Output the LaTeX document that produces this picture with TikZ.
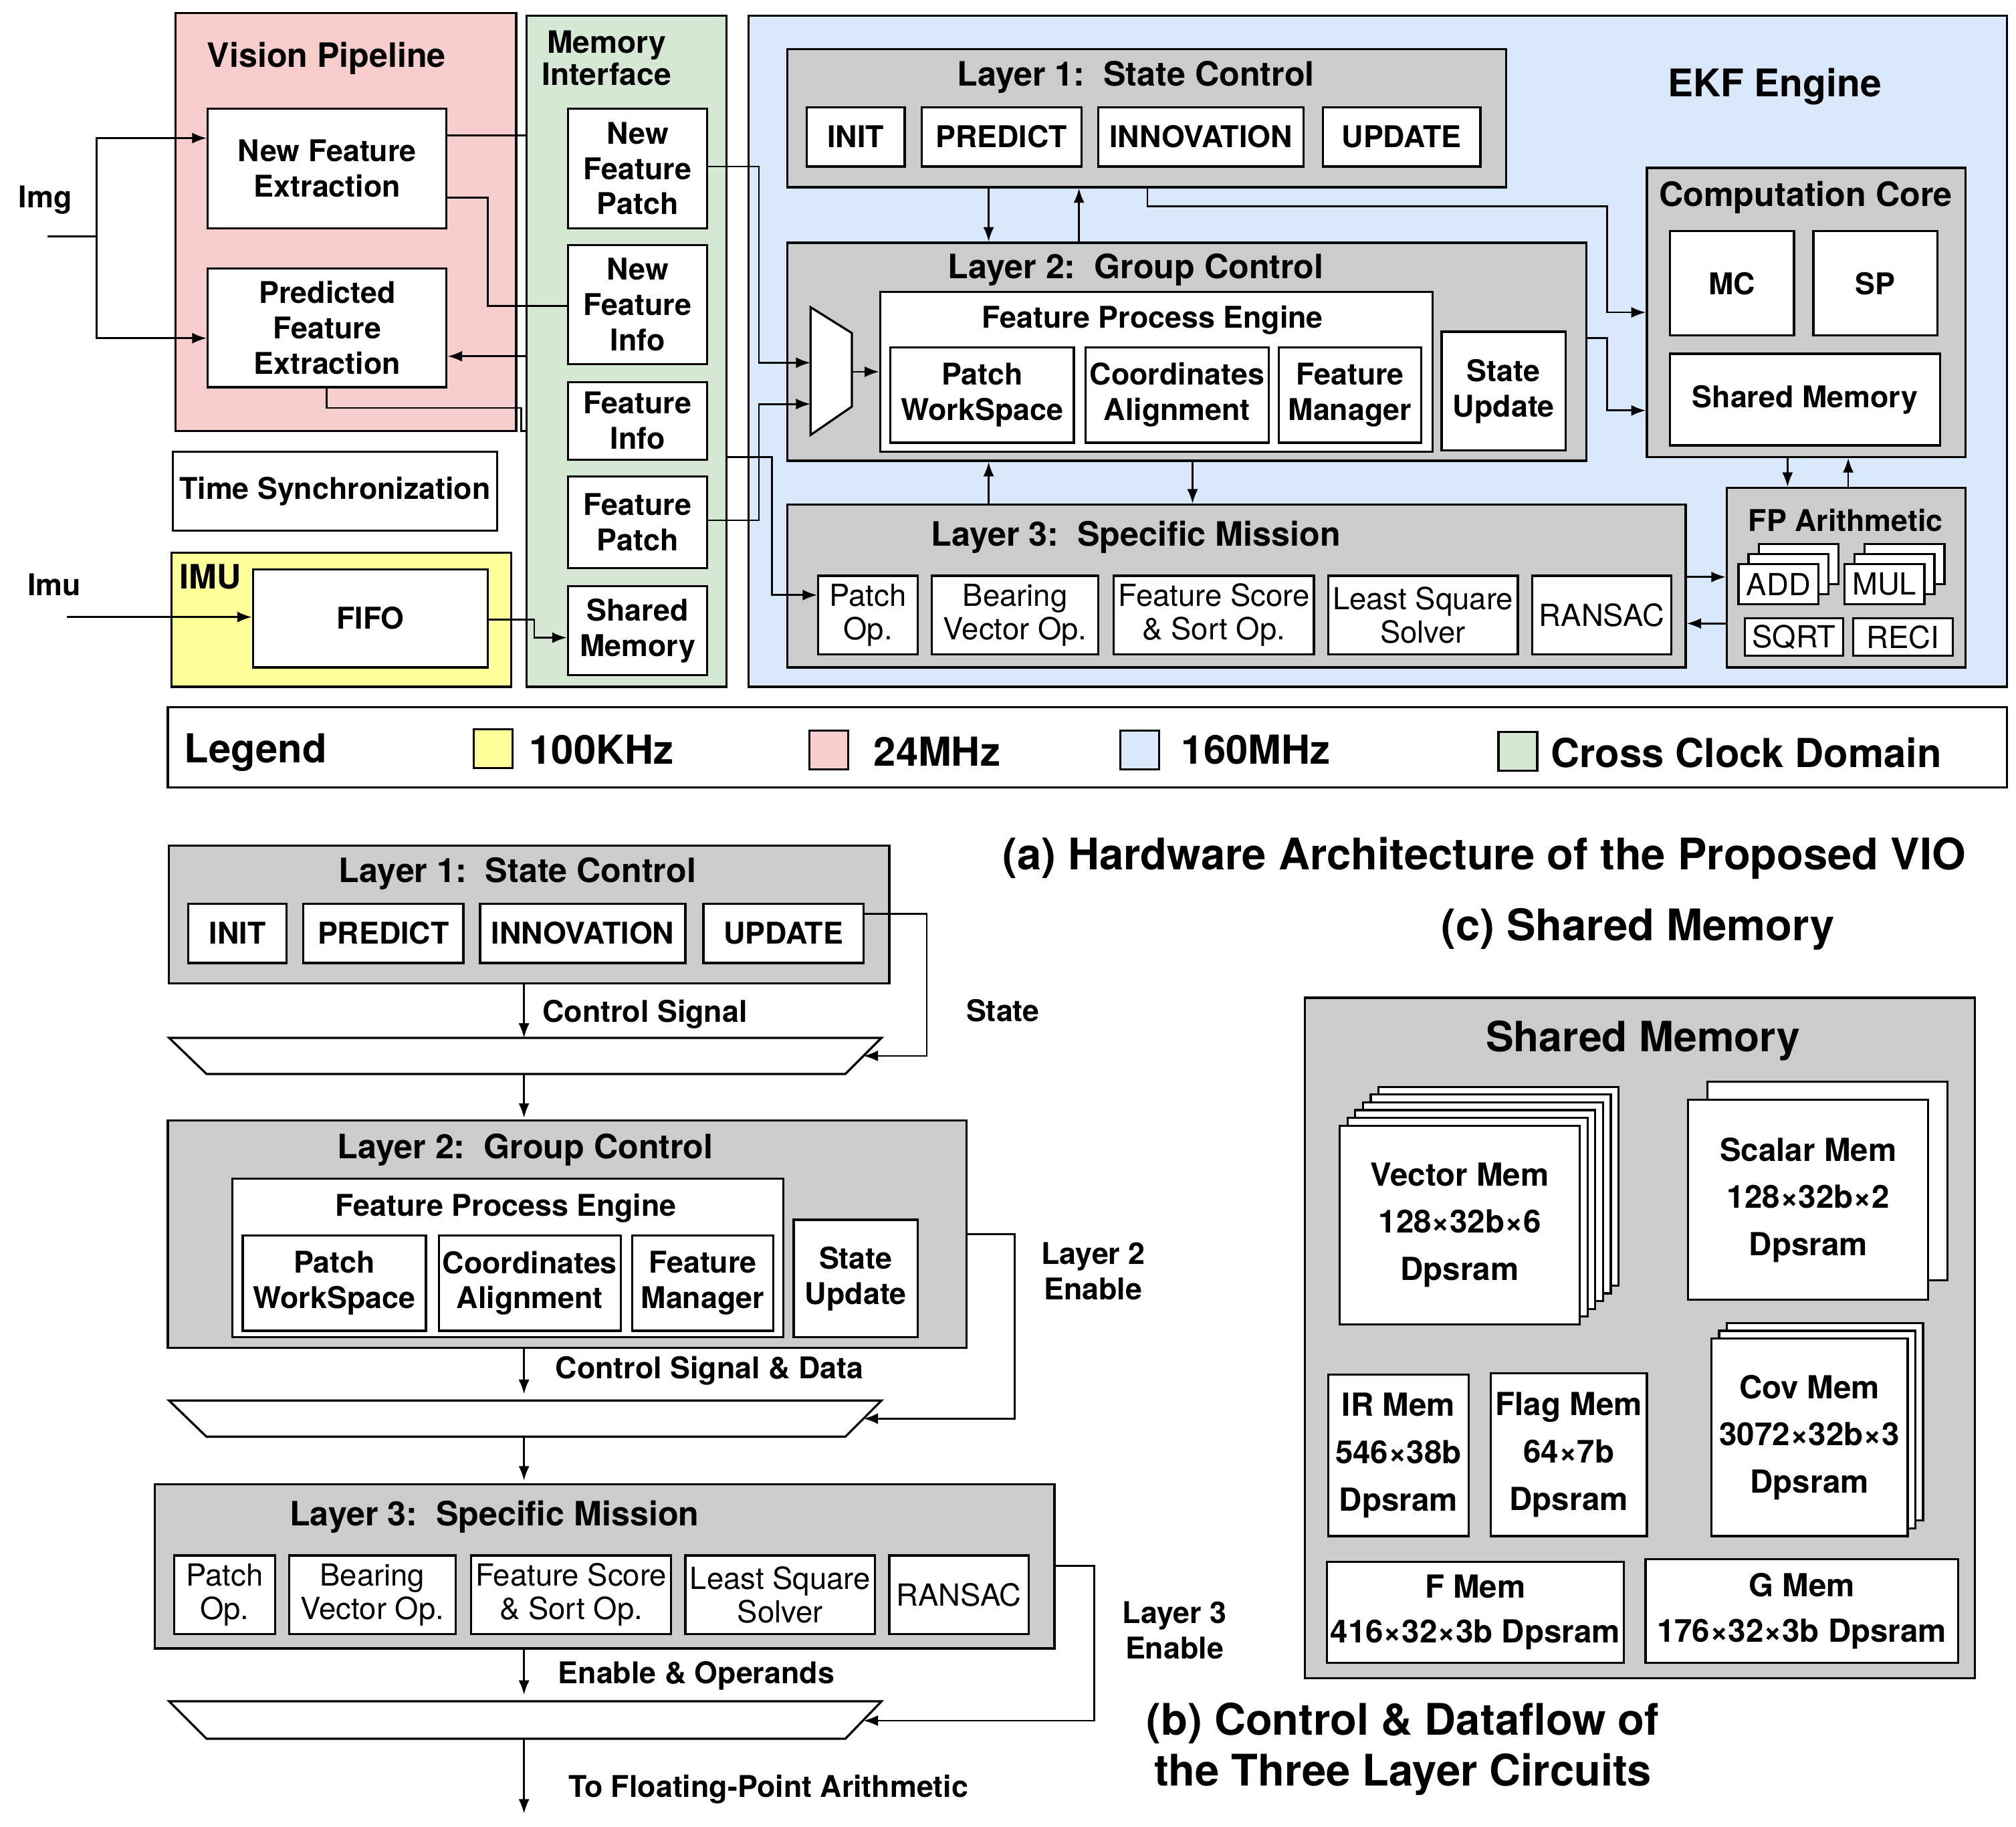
\documentclass[tikz,border=0pt]{standalone}
\usepackage{fontspec}
\setmainfont{TeX Gyre Heros}
\usetikzlibrary{arrows.meta}
\newcommand\bx[7]{\node[#1,minimum width={(#5-#3)*0.05cm},minimum height={(#6-#4)*0.05cm}] (#2) at ({(#3+#5)/2},{(#4+#6)/2}) {#7};}
\newcommand\stk[7]{%
\foreach \k in {#7,...,1}{\draw[box] ({#3+7.8*\k},{#4-7.8*\k}) rectangle ({#5+7.8*\k},{#6-7.8*\k});}}
\tikzset{
 ln/.style={line width=2pt},
 box/.style={draw,line width=2.4pt,fill=white,inner sep=0pt,align=center,font=\fontsize{33}{39}\selectfont\bfseries},
 nb/.style={box,font=\fontsize{33.5}{37}\selectfont},
 gray/.style={box,fill=graybg},
 ttl/.style={font=\fontsize{37}{42}\selectfont\bfseries,align=center},
 lab/.style={font=\fontsize{33}{39}\selectfont\bfseries,align=center},
 big/.style={font=\fontsize{48}{56}\selectfont\bfseries,align=center},
 ar/.style={ln,-{Latex[length=16pt,width=12pt]}},
}
\definecolor{graybg}{HTML}{CCCCCC}
\definecolor{pinkbg}{HTML}{F8CECC}
\definecolor{greenbg}{HTML}{D5E8D4}
\definecolor{bluebg}{HTML}{DAE8FC}
\definecolor{yellowbg}{HTML}{FFFF99}
\begin{document}
\begin{tikzpicture}[x=0.05cm,y=-0.05cm]
\useasboundingbox (0,0) rectangle (1562,1415);
% ===== (a) =====
\bx{box,fill=pinkbg}{vp}{136}{10}{400}{334}{}
\node[ttl] (vpt) at (253,45) {Vision Pipeline};
\bx{box,fill=greenbg}{mi}{408}{12}{563}{532}{}
\node[ttl,font=\fontsize{34}{40}\selectfont\bfseries] (mit) at (470,45) {Memory\\[-4pt]Interface};
\bx{box,fill=bluebg}{ekf}{580}{12}{1555}{532}{}
\node[big,font=\fontsize{42}{48}\selectfont\bfseries] (ekft) at (1375,67) {EKF Engine};
\bx{box,fill=yellowbg}{imu}{133}{428}{396}{532}{}
\node[ttl] (imut) at (163,447) {IMU};
\bx{box}{nfe}{161}{84}{346}{177}{New Feature\\Extraction}
\bx{box}{pfe}{161}{208}{346}{300}{Predicted\\Feature\\Extraction}
\bx{box}{ts}{134}{350}{385}{411}{Time Synchronization}
\bx{box}{fifo}{196}{441}{378}{517}{FIFO}
\bx{box}{nfp}{440}{84}{548}{177}{New\\Feature\\Patch}
\bx{box}{nfi}{440}{190}{548}{282}{New\\Feature\\Info}
\bx{box}{fi}{440}{296}{548}{356}{Feature\\Info}
\bx{box}{fp}{440}{369}{548}{440}{Feature\\Patch}
\bx{box}{sm}{440}{454}{548}{523}{Shared\\Memory}
% Layer1
\bx{gray}{l1}{610}{38}{1167}{145}{}
\node[ttl] (l1t) at (880,60) {Layer 1:\ \ State Control};
\bx{box}{a1}{625}{83}{701}{129}{INIT}
\bx{box}{a2}{714}{83}{838}{129}{PREDICT}
\bx{box}{a3}{851}{83}{1010}{129}{INNOVATION}
\bx{box}{a4}{1025}{83}{1147}{129}{UPDATE}
% Layer2
\bx{gray}{l2}{610}{188}{1229}{357}{}
\node[ttl] (l2t) at (880,209) {Layer 2:\ \ Group Control};
\draw[ln,line width=2.4pt,fill=white] (628,238) -- (660,258) -- (660,315) -- (628,337) -- cycle;
\coordinate (muxo) at (660,288);
\bx{box}{fpe}{682}{226}{1110}{350}{}
\node[lab] (fpet) at (893,248) {Feature Process Engine};
\bx{box}{b1}{690}{269}{832}{343}{Patch\\WorkSpace}
\bx{box}{b2}{841}{269}{983}{343}{Coordinates\\Alignment}
\bx{box}{b3}{991}{269}{1101}{343}{Feature\\Manager}
\bx{box}{b4}{1117}{257}{1213}{349}{State\\Update}
% Layer3
\bx{gray}{l3}{610}{391}{1306}{517}{}
\node[ttl] (l3t) at (880,416) {Layer 3:\ \ Specific Mission};
\bx{nb}{c1}{634}{446}{711}{507}{Patch\\Op.}
\bx{nb}{c2}{722}{446}{851}{507}{Bearing\\Vector Op.}
\bx{nb}{c3}{863}{446}{1018}{507}{Feature Score\\\& Sort Op.}
\bx{nb}{c4}{1029}{446}{1176}{507}{Least Square\\Solver}
\bx{nb}{c5}{1187}{446}{1295}{507}{RANSAC}
% Computation core
\bx{gray}{cc}{1276}{130}{1523}{354}{}
\node[ttl] (cct) at (1399,153) {Computation Core};
\bx{box}{mc}{1294}{179}{1390}{260}{MC}
\bx{box}{sp}{1405}{179}{1501}{260}{SP}
\bx{box}{csm}{1294}{274}{1503}{345}{Shared Memory}
% FP
\bx{gray}{fpa}{1338}{378}{1523}{517}{}
\node[lab] (fpat) at (1430,403) {FP Arithmetic};
\stk{box}{addS}{1347}{437}{1409}{468}{2}
\bx{nb}{add}{1347}{437}{1409}{468}{ADD}
\stk{box}{mulS}{1429}{437}{1491}{468}{2}
\bx{nb}{mul}{1429}{437}{1491}{468}{MUL}
\bx{nb}{sqrt}{1352}{479}{1428}{508}{SQRT}
\bx{nb}{reci}{1436}{479}{1513}{508}{RECI}
% inputs
\node[lab] (img) at (35,155) {Img};
\node[lab] (imul) at (42,453) {Imu};
\coordinate (imgs) at (37,183);
\draw[ln] (imgs) -- (75,183);
\draw[ar] (75,183) |- (nfe.west |- 0,107);
\draw[ar] (75,183) |- (pfe.west |- 0,262);
\coordinate (imus) at (52,478);
\draw[ar] (imus) -- (fifo.west |- 0,478);
% connectors
\draw[ln] (nfe.east |- 0,105) -- (mi.west |- 0,105);
\draw[ln] (nfe.east |- 0,153) -- (378,153) |- (nfi.west |- 0,237);
\draw[ar] (mi.west |- 0,276) -- (pfe.east |- 0,276);
\draw[ln] (pfe.south -| 253,0) -- (253,316) -| (404,334) -- (mi.west |- 0,334);
\draw[ar] (nfp.east |- 0,129) -- (588,129) |- (628,281);
\draw[ar] (fp.east |- 0,403) -- (588,403) |- (628,313);
\draw[ar] (mi.east |- 0,354) -- (598,354) |- (c1.west |- 0,461);
\draw[ar] (fifo.east |- 0,480) -- (414,480) |- (sm.west |- 0,494);
\draw[ar] (muxo) -- (fpe.west |- muxo);
\draw[ar] (l1.south -| 766,0) -- (l2.north -| 766,0);
\draw[ar] (l2.north -| 836,0) -- (l1.south -| 836,0);
\draw[ar] (l3.north -| 766,0) -- (l2.south -| 766,0);
\draw[ar] (l2.south -| 924,0) -- (l3.north -| 924,0);
\draw[ar] (l1.south -| 889,0) -- (889,160) -- (1245,160) |- (cc.west |- 0,242);
\draw[ar] (l2.east |- 0,262) -- (1245,262) |- (cc.west |- 0,318);
\draw[ar] (cc.south -| 1385,0) -- (fpa.north -| 1385,0);
\draw[ar] (fpa.north -| 1432,0) -- (cc.south -| 1432,0);
\draw[ar] (l3.east |- 0,447) -- (fpa.west |- 0,447);
\draw[ar] (fpa.west |- 0,483) -- (l3.east |- 0,483);
% legend
\bx{box}{leg}{130}{548}{1555}{610}{}
\tikzset{lt/.style={font=\fontsize{44}{50}\selectfont\bfseries}}
\node[lt] (legt) at (198,583) {Legend};
\bx{box,fill=yellowbg}{ly}{367}{565}{397}{595}{}
\node[lt] (lyt) at (466,581) {100KHz};
\bx{box,fill=pinkbg}{lp}{627}{566}{657}{596}{}
\node[lt] (lpt) at (726,582) {24MHz};
\bx{box,fill=bluebg}{lb}{868}{566}{898}{596}{}
\node[lt] (lbt) at (973,581) {160MHz};
\bx{box,fill=greenbg}{lg}{1161}{567}{1191}{597}{}
\node[lt] (lgt) at (1353,583) {Cross Clock Domain};
\node[big] (capa) at (1150,665) {(a) Hardware Architecture of the Proposed VIO};
% ===== (b) =====
\bx{gray}{m1}{131}{655}{689}{762}{}
\node[ttl] (m1t) at (401,677) {Layer 1:\ \ State Control};
\bx{box}{d1}{146}{700}{222}{746}{INIT}
\bx{box}{d2}{235}{700}{359}{746}{PREDICT}
\bx{box}{d3}{372}{700}{531}{746}{INNOVATION}
\bx{box}{d4}{545}{700}{669}{746}{UPDATE}
\draw[ln,line width=2.4pt,fill=white] (131,804) -- (683,804) -- (655,832) -- (160,832) -- cycle;
\coordinate (t1) at (406,804); \coordinate (t1b) at (406,832);
\draw[ar] (m1.south -| t1) -- (t1);
\node[lab,anchor=west] (cs1) at (418,786) {Control Signal};
\draw[ar] (d4.east |- 0,708) -- (718,708) |- (669,818);
\node[lab] (st) at (777,783) {State};
\draw[ar] (t1b) -- (406,866);
\bx{gray}{m2}{130}{868}{749}{1044}{}
\node[ttl] (m2t) at (407,891) {Layer 2:\ \ Group Control};
\bx{box}{fpe2}{180}{913}{607}{1036}{}
\node[lab] (fpe2t) at (392,936) {Feature Process Engine};
\bx{box}{e1}{188}{957}{330}{1031}{Patch\\WorkSpace}
\bx{box}{e2}{340}{957}{481}{1031}{Coordinates\\Alignment}
\bx{box}{e3}{490}{957}{599}{1031}{Feature\\Manager}
\bx{box}{e4}{615}{945}{711}{1036}{State\\Update}
\draw[ln,line width=2.4pt,fill=white] (131,1085) -- (683,1085) -- (655,1113) -- (160,1113) -- cycle;
\draw[ar] (m2.south -| 406,0) -- (406,1080);
\node[lab,anchor=west] (cs2) at (428,1062) {Control Signal \& Data};
\draw[ar] (m2.east |- 0,956) -- (786,956) |- (669,1099);
\node[lab] (l2e) at (847,985) {Layer 2\\Enable};
\draw[ar] (406,1113) -- (406,1147);
\bx{gray}{m3}{120}{1150}{817}{1277}{}
\node[ttl] (m3t) at (383,1175) {Layer 3:\ \ Specific Mission};
\bx{nb}{f1}{135}{1205}{213}{1266}{Patch\\Op.}
\bx{nb}{f2}{224}{1205}{353}{1266}{Bearing\\Vector Op.}
\bx{nb}{f3}{365}{1205}{520}{1266}{Feature Score\\\& Sort Op.}
\bx{nb}{f4}{531}{1205}{678}{1266}{Least Square\\Solver}
\bx{nb}{f5}{689}{1205}{797}{1266}{RANSAC}
\draw[ln,line width=2.4pt,fill=white] (131,1318) -- (683,1318) -- (655,1347) -- (160,1347) -- cycle;
\draw[ar] (m3.south -| 406,0) -- (406,1313);
\node[lab,anchor=west] (eo) at (430,1298) {Enable \& Operands};
\draw[ar] (m3.east |- 0,1213) -- (848,1213) |- (669,1333);
\node[lab] (l3e) at (910,1263) {Layer 3\\Enable};
\coordinate (tofp) at (406,1405);
\draw[ar] (406,1347) -- (tofp);
\node[lab,anchor=west] (tfp) at (438,1386) {To Floating-Point Arithmetic};
\node[big] (capb) at (1087,1355) {(b) Control \& Dataflow of\\the Three Layer Circuits};
% ===== (c) =====
\node[big] (capc) at (1269,720) {(c) Shared Memory};
\bx{gray}{smc}{1011}{773}{1530}{1300}{}
\node[big,font=\fontsize{46}{52}\selectfont\bfseries] (smct) at (1273,806) {Shared Memory};
\tikzset{mem/.style={box,font=\fontsize{35}{52}\selectfont\bfseries}}
\foreach \k in {5,...,1}{\draw[box] ({1038+6*\k},{872-6*\k}) rectangle ({1224+6*\k},{1026-6*\k});}
\bx{mem}{vm}{1038}{872}{1224}{1026}{Vector Mem\\128×32b×6\\Dpsram}
\draw[box] (1323,838) rectangle (1509,992);
\bx{mem}{scm}{1308}{852}{1494}{1007}{Scalar Mem\\128×32b×2\\Dpsram}
\foreach \k in {2,1}{\draw[box] ({1326+6*\k},{1037-6*\k}) rectangle ({1478+6*\k},{1190-6*\k});}
\bx{mem}{cvm}{1326}{1037}{1478}{1190}{Cov Mem\\3072×32b×3\\Dpsram}
\bx{mem}{irm}{1029}{1065}{1138}{1190}{IR Mem\\546×38b\\Dpsram}
\bx{mem}{flm}{1155}{1064}{1276}{1190}{Flag Mem\\64×7b\\Dpsram}
\bx{box,font=\fontsize{35}{50}\selectfont\bfseries}{fm}{1028}{1210}{1258}{1288}{F Mem\\416×32×3b Dpsram}
\bx{box,font=\fontsize{35}{50}\selectfont\bfseries}{gm}{1275}{1208}{1517}{1288}{G Mem\\176×32×3b Dpsram}
\end{tikzpicture}
\end{document}
